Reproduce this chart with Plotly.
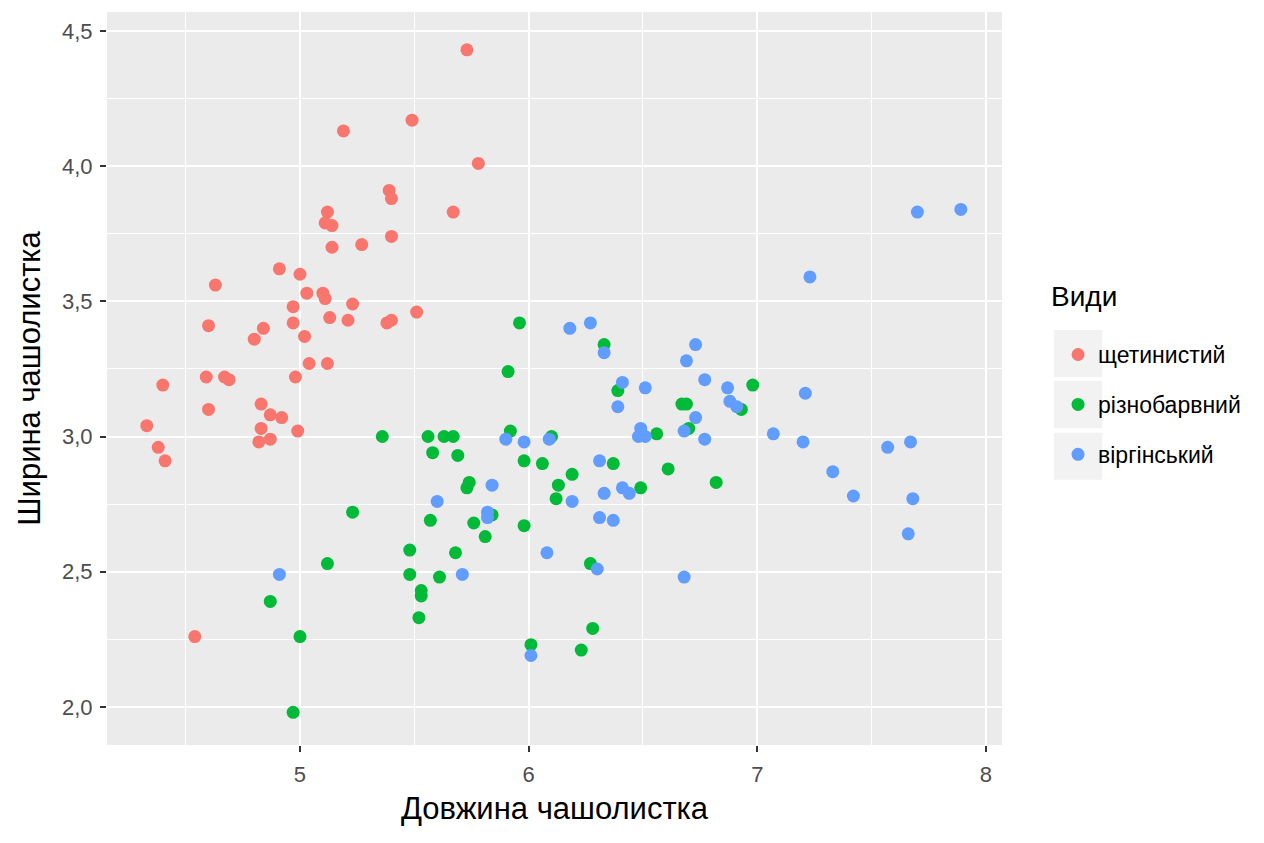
import plotly.graph_objects as go

# species names as they appear in the legend
species = ["щетинистий", "різнобарвний", "віргінський"]
colors = ["#F8766D", "#00BA38", "#619CFF"]

setosa_x = [5.73, 5.49, 5.19, 5.78, 5.67, 5.39, 5.40, 5.12, 5.11, 5.14,
            5.14, 5.27, 5.40, 4.91, 5.00, 4.63, 5.03, 5.10, 5.11, 5.23,
            4.97, 5.51, 4.60, 4.84, 5.13, 5.21, 5.38, 5.40, 4.97, 4.80,
            5.02, 5.04, 5.12, 4.40, 4.59, 4.67, 4.69, 4.98, 4.83, 4.60,
            4.87, 4.92, 4.33, 4.83, 4.99, 4.38, 4.82, 4.87, 4.41, 4.54]
setosa_y = [4.43, 4.17, 4.13, 4.01, 3.83, 3.91, 3.88, 3.83, 3.79, 3.78,
            3.70, 3.71, 3.74, 3.62, 3.60, 3.56, 3.53, 3.53, 3.51, 3.49,
            3.48, 3.46, 3.41, 3.40, 3.44, 3.43, 3.42, 3.43, 3.42, 3.36,
            3.37, 3.27, 3.27, 3.19, 3.22, 3.22, 3.21, 3.22, 3.12, 3.10,
            3.08, 3.07, 3.04, 3.03, 3.02, 2.96, 2.98, 2.99, 2.91, 2.26]

versicolor_x = [5.96, 5.91, 6.33, 6.39, 6.98, 6.67, 6.69, 6.93, 6.70, 5.92,
                5.36, 5.56, 5.63, 5.67, 6.10, 6.56, 5.58, 5.69, 5.98, 6.06,
                6.37, 6.19, 6.61, 5.74, 5.73, 6.13, 6.49, 6.82, 6.12, 5.84,
                5.76, 5.57, 5.81, 5.23, 5.98, 5.48, 5.68, 5.12, 5.48, 5.61,
                6.27, 5.53, 5.53, 5.52, 4.87, 6.28, 5.00, 6.01, 6.23, 4.97]
versicolor_y = [3.42, 3.24, 3.34, 3.17, 3.19, 3.12, 3.12, 3.10, 3.03, 3.02,
                3.00, 3.00, 3.00, 3.00, 3.00, 3.01, 2.94, 2.93, 2.91, 2.90,
                2.90, 2.86, 2.88, 2.83, 2.81, 2.82, 2.81, 2.83, 2.77, 2.71,
                2.68, 2.69, 2.63, 2.72, 2.67, 2.58, 2.57, 2.53, 2.49, 2.48,
                2.53, 2.43, 2.41, 2.33, 2.39, 2.29, 2.26, 2.23, 2.21, 1.98]

virginica_x = [6.27, 6.18, 6.33, 6.73, 6.69, 7.23, 7.70, 7.89, 6.41, 6.51,
               6.77, 6.87, 6.39, 6.88, 6.91, 6.73, 7.21, 6.68, 6.48, 6.51,
               6.49, 6.77, 7.07, 7.20, 7.57, 7.67, 5.90, 5.98, 6.09, 6.31,
               6.33, 6.41, 6.44, 6.19, 6.37, 6.31, 5.84, 5.60, 5.82, 5.82,
               6.08, 6.30, 5.71, 4.91, 6.68, 7.33, 7.42, 7.68, 7.66, 6.01]
virginica_y = [3.42, 3.40, 3.31, 3.34, 3.28, 3.59, 3.83, 3.84, 3.20, 3.18,
               3.21, 3.18, 3.11, 3.13, 3.11, 3.07, 3.16, 3.02, 3.00, 3.00,
               3.03, 2.99, 3.01, 2.98, 2.96, 2.98, 2.99, 2.98, 2.99, 2.91,
               2.79, 2.81, 2.79, 2.76, 2.69, 2.70, 2.82, 2.76, 2.72, 2.70,
               2.57, 2.51, 2.49, 2.49, 2.48, 2.87, 2.78, 2.77, 2.64, 2.19]

x_ticks = [5, 6, 7, 8]
x_labels = ["5", "6", "7", "8"]
y_ticks = [2.0, 2.5, 3.0, 3.5, 4.0, 4.5]
y_labels = ["2,0", "2,5", "3,0", "3,5", "4,0", "4,5"]

xs = [setosa_x, versicolor_x, virginica_x]
ys = [setosa_y, versicolor_y, virginica_y]

fig = go.Figure()

for i in range(3):
    fig.add_trace(
        go.Scatter(
            x=xs[i],
            y=ys[i],
            mode="markers",
            name=species[i],
            legendgroup=species[i],
            marker=dict(color=colors[i], size=13, line=dict(width=0)),
        )
    )

# grey key boxes behind the legend symbols (ggplot look)
for y0, y1 in [(0.502, 0.566), (0.432, 0.497), (0.362, 0.426)]:
    fig.add_shape(
        type="rect", xref="paper", yref="paper",
        x0=1.058, x1=1.112, y0=y0, y1=y1,
        fillcolor="#F2F2F2", line=dict(width=0), layer="below",
    )

# legend title drawn as a separate text so the gap below it matches
fig.add_annotation(
    text="Види", xref="paper", yref="paper",
    x=1.053, y=0.612, xanchor="left", yanchor="middle",
    showarrow=False, font=dict(size=28, color="black"),
)

font = "Liberation Sans, Arial, sans-serif"

# page body has an 8px margin, so the figure is a bit smaller than the window
fig.update_layout(
    width=1248,
    height=820,
    margin=dict(l=99, r=254, t=4, b=83),
    paper_bgcolor="white",
    plot_bgcolor="#EBEBEB",
    font=dict(family=font, color="black"),
    legend=dict(
        font=dict(size=23, color="black"),
        x=1.0626,
        xanchor="left",
        y=0.562,
        yanchor="top",
        traceorder="grouped",
        tracegroupgap=17,
        bgcolor="rgba(0,0,0,0)",
    ),
    showlegend=True,
)

fig.update_xaxes(
    range=[4.156, 8.07],
    tickvals=x_ticks,
    ticktext=x_labels,
    tickfont=dict(size=22, color="#4D4D4D"),
    ticks="outside",
    ticklen=6,
    tickwidth=1.5,
    tickcolor="#333333",
    ticklabelstandoff=4,
    showgrid=True,
    gridcolor="white",
    gridwidth=2,
    zeroline=False,
    showline=False,
    minor=dict(tickvals=[4.5, 5.5, 6.5, 7.5], showgrid=True, gridcolor="white", gridwidth=1),
    title=dict(text="Довжина чашолистка", font=dict(size=31, color="black"), standoff=10),
)

fig.update_yaxes(
    range=[1.859, 4.57],
    tickvals=y_ticks,
    ticktext=y_labels,
    tickfont=dict(size=22, color="#4D4D4D"),
    ticks="outside",
    ticklen=6,
    tickwidth=1.5,
    tickcolor="#333333",
    ticklabelstandoff=3,
    showgrid=True,
    gridcolor="white",
    gridwidth=2,
    zeroline=False,
    showline=False,
    minor=dict(tickvals=[2.25, 2.75, 3.25, 3.75, 4.25], showgrid=True, gridcolor="white", gridwidth=1),
    title=dict(text="Ширина чашолистка", font=dict(size=31, color="black"), standoff=12),
)

fig.write_html("out.html")
